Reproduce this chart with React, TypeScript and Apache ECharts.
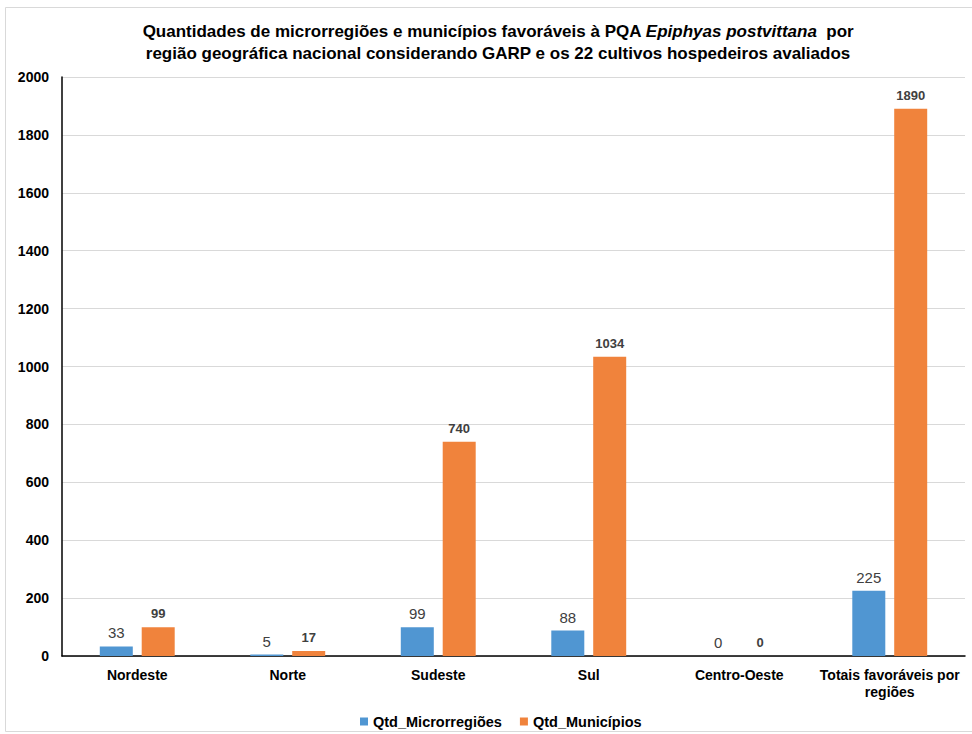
import React, { useEffect, useRef } from "react";
import * as echarts from "echarts";

const categories = ["Nordeste", "Norte", "Sudeste", "Sul", "Centro-Oeste", "Totais favoráveis por\nregiões"];
const microrregioes = [33, 5, 99, 88, 0, 225];
const municipios = [99, 17, 740, 1034, 0, 1890];
const seriesNames = ["Qtd_Microrregiões", "Qtd_Municípios"];
const yTicks = { min: 0, max: 2000, interval: 200 };

export default function App() {
  const ref = useRef<HTMLDivElement>(null);
  useEffect(() => {
    const chart = echarts.init(ref.current!, null, { renderer: "svg" });
    const font = "'Liberation Sans', Arial, sans-serif";
    chart.setOption({
      animation: false,
      backgroundColor: "#ffffff",
      textStyle: { fontFamily: font },
      graphic: [
        {
          type: "rect",
          shape: { x: 5.5, y: 7.5, width: 980, height: 724 },
          style: { fill: "none", stroke: "#d9d9d9", lineWidth: 1 },
          silent: true,
        },
      ],
      title: {
        text: "{a|Quantidades de microrregiões e municípios favoráveis à PQA }{i|Epiphyas postvittana}{a|  por}\n{a|região geográfica nacional considerando GARP e os 22 cultivos hospedeiros avaliados}",
        left: 493,
        textAlign: "center",
        top: 15,
        textStyle: {
          rich: {
            a: { fontFamily: font, fontSize: 17, fontWeight: "bold", color: "#000", lineHeight: 22 },
            i: { fontFamily: font, fontSize: 17, fontWeight: "bold", fontStyle: "italic", color: "#000", lineHeight: 22 },
          },
        },
      },
      legend: {
        top: 709,
        left: 355,
        icon: "rect",
        itemWidth: 8,
        itemHeight: 8,
        itemGap: 18,
        textStyle: { fontFamily: font, fontSize: 14.5, fontWeight: "bold", color: "#000" },
        data: seriesNames,
      },
      grid: { left: 62, right: 7, top: 77, bottom: 78, containLabel: false },
      xAxis: {
        type: "category",
        data: categories,
        axisLine: { lineStyle: { color: "#000", width: 1.5 } },
        axisTick: { show: false },
        axisLabel: {
          fontFamily: font,
          fontSize: 14,
          fontWeight: "bold",
          color: "#000",
          margin: 10,
          lineHeight: 17,
          interval: 0,
        },
      },
      yAxis: {
        type: "value",
        min: yTicks.min,
        max: yTicks.max,
        interval: yTicks.interval,
        axisLine: { show: true, lineStyle: { color: "#000", width: 1.5 } },
        axisTick: { show: false },
        splitLine: { lineStyle: { color: "#d9d9d9", width: 1 } },
        axisLabel: {
          fontFamily: font,
          fontSize: 14,
          fontWeight: "bold",
          color: "#000",
          margin: 13,
          formatter: (v: number) => String(v),
        },
      },
      series: [
        {
          name: seriesNames[0],
          type: "bar",
          data: microrregioes,
          barWidth: 33,
          barGap: "27%",
          itemStyle: { color: "#5096d2" },
          label: {
            show: true,
            position: "top",
            distance: 6,
            fontFamily: font,
            fontSize: 15,
            color: "#404040",
          },
        },
        {
          name: seriesNames[1],
          type: "bar",
          data: municipios,
          barWidth: 33,
          itemStyle: { color: "#f0833c" },
          label: {
            show: true,
            position: "top",
            distance: 7,
            fontFamily: font,
            fontSize: 13,
            fontWeight: "bold",
            color: "#404040",
          },
        },
      ],
    });
    return () => chart.dispose();
  }, []);
  return (
    <div
      ref={ref}
      style={{ position: "absolute", left: 0, top: 0, width: 972, height: 734 }}
    />
  );
}
